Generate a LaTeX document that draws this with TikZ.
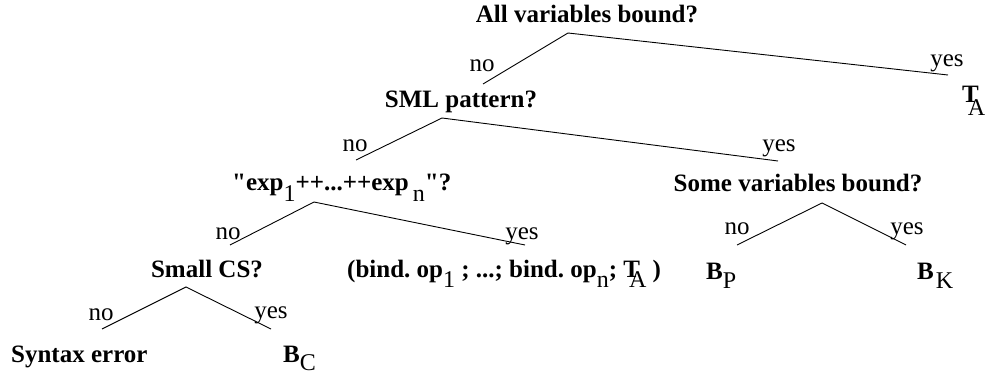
\documentclass[tikz,border=0pt]{standalone}
\usepackage{fontspec}
\setmainfont{Liberation Serif}[Ligatures=TeXOff]
\frenchspacing
\newcommand\sbx[2][9pt]{\raisebox{-#1}{\fontsize{24}{24}\selectfont\mdseries #2}}
\tikzset{
  q/.style={inner sep=0pt, font=\fontsize{25}{30}\selectfont\bfseries, anchor=base},
  lf/.style={inner sep=0pt, font=\fontsize{25}{30}\selectfont\bfseries, anchor=base west},
  lab/.style={inner sep=0pt, font=\fontsize{25}{30}\selectfont, anchor=base},
  br/.style={line width=0.9pt}
}
\begin{document}
\begin{tikzpicture}[x=1pt,y=-1pt]
\useasboundingbox (0,0) rectangle (987,374);
% root
\node[q] (q1) at (587,23) {All variables bound?};
\coordinate (c1) at (568,33);
\coordinate (l1) at (483,84);
\coordinate (r1) at (948,75);
\draw[br] (l1) -- (c1) -- (r1);
\node[lab] (no1) at (482,72) {no};
\node[lab] (yes1) at (947,67) {yes};
\node[lf] (ta1) at (962,103) {T\kern-11pt\sbx[13pt]{A}};
% SML pattern
\node[q] (q2) at (461,108) {SML pattern?};
\coordinate (c2) at (442,118);
\coordinate (l2) at (356,160);
\coordinate (r2) at (778,161);
\draw[br] (l2) -- (c2) -- (r2);
\node[lab] (no2) at (355,152) {no};
\node[lab] (yes2) at (779,152) {yes};
% exp
\node[lf] (q3) at (232,190) {"exp\sbx[11pt]{1}++...++exp\,\sbx[11pt]{n}"?};
\coordinate (c3) at (314,202);
\coordinate (l3) at (230,245);
\coordinate (r3) at (525,245);
\draw[br] (l3) -- (c3) -- (r3);
\node[lab] (no3) at (228,239) {no};
\node[lab] (yes3) at (522,239) {yes};
% bind ops
\node[lf] (bind) at (347,277) {(bind. op\sbx[10pt]{1} ; ...; bind. op\sbx[10pt]{n}; T\kern-11pt\sbx[10pt]{A} )};
% Small CS
\node[q] (q4) at (207,277) {Small CS?};
\coordinate (c4) at (186,287);
\coordinate (l4) at (102,329);
\coordinate (r4) at (271,329);
\draw[br] (l4) -- (c4) -- (r4);
\node[lab] (no4) at (101,320) {no};
\node[lab] (yes4) at (271,318) {yes};
\node[lf] (se) at (11,362) {Syntax error};
\node[lf] (bc) at (283,362) {B\sbx[8pt]{C}};
% Some variables bound
\node[q] (q5) at (798,192) {Some variables bound?};
\coordinate (c5) at (822,203);
\coordinate (l5) at (737,245);
\coordinate (r5) at (906,245);
\draw[br] (l5) -- (c5) -- (r5);
\node[lab] (no5) at (737,234) {no};
\node[lab] (yes5) at (907,234) {yes};
\node[lf] (bp) at (706,279) {B\sbx{P}};
\node[lf] (bk) at (917,279) {B\kern2pt\sbx{K}};
\end{tikzpicture}
\end{document}
